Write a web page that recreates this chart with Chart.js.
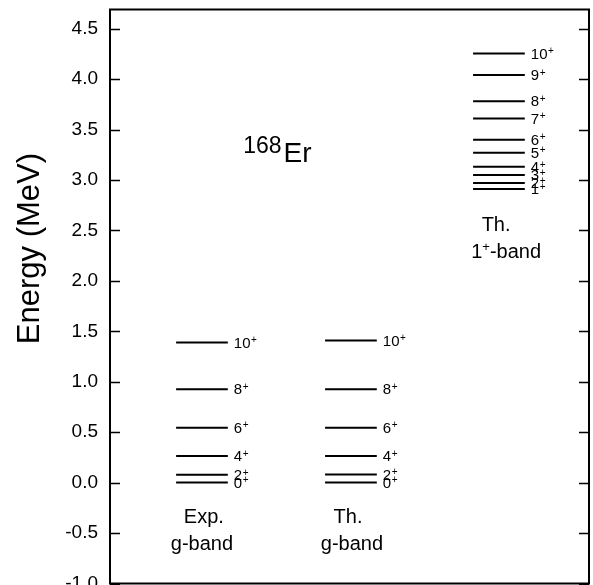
<!DOCTYPE html>
<html>
<head>
<meta charset="utf-8">
<script src="https://cdn.jsdelivr.net/npm/chart.js"></script>
<style>
  html, body { margin: 0; padding: 0; background: #fff; overflow: hidden; width: 593px; height: 585px; }
  #wrap { position: relative; top: -12px; width: 593px; height: 617px; }
</style>
</head>
<body>
<div id="wrap"><canvas id="levels"></canvas></div>
<script>
// level energies (MeV)
const expGBand = [0.000, 0.077, 0.263, 0.544, 0.925, 1.388];
const thGBand = [0.000, 0.081, 0.263, 0.544, 0.925, 1.408];
const gBandSpins = ["0", "2", "4", "6", "8", "10"];

const th1Band = [2.91, 2.97, 3.05, 3.13, 3.27, 3.40, 3.61, 3.78, 4.04, 4.255];
const th1Spins = ["1", "2", "3", "4", "5", "6", "7", "8", "9", "10"];

const yTicks = [-1.0, -0.5, 0.0, 0.5, 1.0, 1.5, 2.0, 2.5, 3.0, 3.5, 4.0, 4.5];

// where each band sits on the (hidden) x axis
const bandCenters = [1.92, 5.03, 8.12];
const halfWidth = 0.54;

const FONT = "'Liberation Sans', Arial, Helvetica, sans-serif";

function segments(energies, center) {
    const pts = [];
    energies.forEach(e => {
        pts.push({ x: center - halfWidth, y: e });
        pts.push({ x: center + halfWidth, y: e });
        pts.push({ x: center + halfWidth, y: null }); // break the line
    });
    return pts;
}

function band(energies, spins, center) {
    return {
        data: segments(energies, center),
        spins: spins,
        showLine: true,
        spanGaps: false,
        borderColor: "#000",
        borderWidth: 2,
        pointRadius: 0,
        pointHoverRadius: 0
    };
}

// text placed in data coordinates
const annotations = [
    { x: 1.96, y: -0.40, text: "Exp." },
    { x: 1.92, y: -0.67, text: "g-band" },
    { x: 4.97, y: -0.40, text: "Th." },
    { x: 5.05, y: -0.67, text: "g-band" },
    { x: 8.06, y: 2.49, text: "Th." }
];

const levelLabels = {
    id: "levelLabels",
    afterDatasetsDraw(chart) {
        const ctx = chart.ctx;
        ctx.save();
        ctx.fillStyle = "#000";
        ctx.textBaseline = "middle";
        chart.data.datasets.forEach((ds, di) => {
            const meta = chart.getDatasetMeta(di);
            ds.spins.forEach((s, i) => {
                const pt = meta.data[i * 3 + 1];
                const x = pt.x + 6, y = pt.y + 1;
                ctx.font = "15px " + FONT;
                ctx.textAlign = "left";
                ctx.fillText(s, x, y);
                const w = ctx.measureText(s).width;
                ctx.font = "10px " + FONT;
                ctx.fillText("+", x + w + 0.5, y - 3);
            });
        });
        ctx.restore();
    }
};

const decorations = {
    id: "decorations",
    afterDraw(chart) {
        const { ctx, chartArea: a, scales: { x, y } } = chart;
        ctx.save();
        ctx.strokeStyle = "#000";
        // frame
        ctx.lineWidth = 2;
        ctx.strokeRect(a.left, a.top, a.right - a.left, a.bottom - a.top);
        // inward ticks both sides
        ctx.lineWidth = 1.5;
        yTicks.forEach(v => {
            const py = Math.round(y.getPixelForValue(v)) + 0.5;
            ctx.beginPath();
            ctx.moveTo(a.left, py); ctx.lineTo(a.left + 10, py);
            ctx.moveTo(a.right, py); ctx.lineTo(a.right - 10, py);
            ctx.stroke();
        });
        // axis title, sits above the middle of the axis like the original
        ctx.save();
        ctx.translate(a.left - 80, y.getPixelForValue(2.32));
        ctx.rotate(-Math.PI / 2);
        ctx.fillStyle = "#000";
        ctx.font = "31px " + FONT;
        ctx.textAlign = "center";
        ctx.textBaseline = "middle";
        ctx.fillText("Energy (MeV)", 0, 0);
        ctx.restore();
        // band captions
        ctx.fillStyle = "#000";
        ctx.textAlign = "center";
        ctx.textBaseline = "alphabetic";
        ctx.font = "20px " + FONT;
        annotations.forEach(t => {
            ctx.fillText(t.text, x.getPixelForValue(t.x), y.getPixelForValue(t.y));
        });
        // "1+-band"
        const bx = x.getPixelForValue(8.27), by = y.getPixelForValue(2.23);
        ctx.textAlign = "left";
        const w1 = ctx.measureText("1").width;
        ctx.font = "13px " + FONT;
        const wp = ctx.measureText("+").width;
        ctx.font = "20px " + FONT;
        const wr = ctx.measureText("-band").width;
        let sx = bx - (w1 + wp + wr) / 2;
        ctx.fillText("1", sx, by);
        ctx.font = "13px " + FONT;
        ctx.fillText("+", sx + w1, by - 7);
        ctx.font = "20px " + FONT;
        ctx.fillText("-band", sx + w1 + wp, by);
        // nucleus label
        const nx = x.getPixelForValue(2.78);
        ctx.font = "23px " + FONT;
        ctx.fillText("168", nx, y.getPixelForValue(3.27));
        const wn = ctx.measureText("168").width;
        ctx.font = "28px " + FONT;
        ctx.fillText("Er", nx + wn + 2, y.getPixelForValue(3.18));
        ctx.restore();
    }
};

new Chart(document.getElementById("levels"), {
    type: "scatter",
    data: {
        datasets: [
            band(expGBand, gBandSpins, bandCenters[0]),
            band(thGBand, gBandSpins, bandCenters[1]),
            band(th1Band, th1Spins, bandCenters[2])
        ]
    },
    options: {
        responsive: true,
        maintainAspectRatio: false,
        animation: false,
        layout: { padding: { left: 0, right: 4, top: 0, bottom: 0 } },
        plugins: {
            legend: { display: false },
            tooltip: { enabled: false }
        },
        scales: {
            x: {
                type: "linear",
                min: 0,
                max: 10,
                display: false
            },
            y: {
                type: "linear",
                min: -1.0,
                max: 4.69,
                afterBuildTicks: (scale) => { scale.ticks = yTicks.map(v => ({ value: v })); },
                afterFit: (scale) => { scale.width = 110; },
                grid: { display: false, drawTicks: false },
                border: { display: false },
                ticks: {
                    color: "#000",
                    padding: 12,
                    font: { family: FONT, size: 19, lineHeight: 1 },
                    callback: (v) => Number(v).toFixed(1)
                },
                title: { display: false }
            }
        }
    },
    plugins: [levelLabels, decorations]
});
</script>
</body>
</html>
